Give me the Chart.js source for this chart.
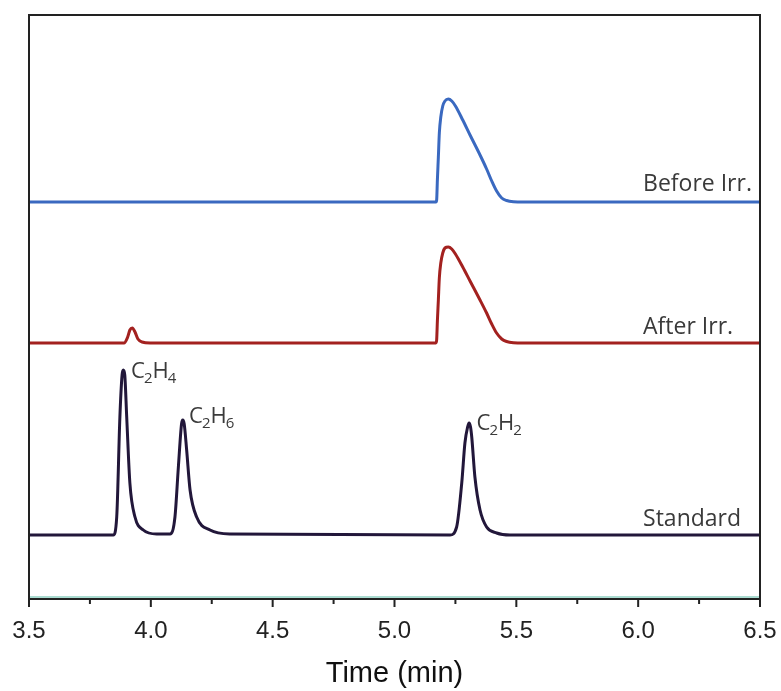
<!DOCTYPE html>
<html lang="en">
<head>
  <meta charset="UTF-8">
  <title>GC traces</title>
  <script src="https://cdn.jsdelivr.net/npm/chart.js@4.4.1/dist/chart.umd.min.js"></script>
  <style>
    body { margin: 0; background: #fff; }
  </style>
</head>
<body>
  <canvas id="gc" width="781" height="691"></canvas>

  <script>
    // DATA (time in min, detector signal in a.u., traces stacked with offsets)
    const beforeTime   = [3.5, 5.17, 5.173, 5.176, 5.18, 5.184, 5.19, 5.198, 5.207, 5.221, 5.235, 5.25, 5.28, 5.31, 5.351, 5.378, 5.399, 5.419, 5.44, 5.46, 5.488, 5.53, 6.5];
    const beforeSignal = [397, 397, 399, 419, 442, 466, 482, 493, 498, 500, 498, 493, 479, 464, 444, 430, 418, 408, 401, 398.5, 397.3, 397, 397];

    const afterTime   = [3.5, 3.89, 3.905, 3.914, 3.924, 3.935, 3.947, 3.964, 3.997, 5.17, 5.173, 5.176, 5.18, 5.184, 5.19, 5.198, 5.207, 5.221, 5.235, 5.25, 5.28, 5.31, 5.351, 5.378, 5.399, 5.419, 5.44, 5.46, 5.488, 5.53, 6.5];
    const afterSignal = [256, 256, 262, 269, 271, 267, 260, 257, 256, 256, 259, 278, 299, 321, 336, 346, 351, 352, 350, 345, 332, 318, 299, 286, 275, 266, 260, 257.5, 256.3, 256, 256];

    const standardTime   = [3.5, 3.846, 3.86, 3.873, 3.882, 3.887, 3.893, 3.901, 3.914, 3.935, 3.969, 4.024, 4.079, 4.099, 4.113, 4.126, 4.131, 4.137, 4.147, 4.161, 4.188, 4.243, 4.325, 5.228, 5.255, 5.276, 5.289, 5.3, 5.306, 5.312, 5.317, 5.33, 5.351, 5.378, 5.419, 5.474, 6.5];
    const standardSignal = [64, 64, 82, 182, 224, 229, 224, 182, 116, 82, 69, 65, 65, 82, 132, 175, 179, 175, 149, 109, 82, 69, 65, 64, 72, 116, 156, 172, 176, 172, 162, 122, 89, 72, 66, 64, 64];

    const seriesNames = ["Before Irr.", "After Irr.", "Standard"];
    const peakNames = ["C2H4", "C2H6", "C2H2"];
    const xTicks = [3.5, 4.0, 4.5, 5.0, 5.5, 6.0, 6.5];

    const toPoints = (t, s) => t.map((v, i) => ({ x: v, y: s[i] }));

    // frame + major/minor ticks
    const framePlugin = {
      id: "frame",
      afterDraw(chart) {
        const { ctx, chartArea: a, scales: { x } } = chart;
        ctx.save();
        ctx.strokeStyle = "#8fd0c2";
        ctx.lineWidth = 1.5;
        ctx.beginPath();
        ctx.moveTo(a.left, a.bottom - 2);
        ctx.lineTo(a.right, a.bottom - 2);
        ctx.stroke();

        ctx.strokeStyle = "#222";
        ctx.lineWidth = 2;
        ctx.strokeRect(a.left, a.top, a.right - a.left, a.bottom - a.top);

        ctx.beginPath();
        x.ticks.forEach((tk, i) => {
          const px = x.getPixelForValue(tk.value);
          ctx.moveTo(px, a.bottom);
          ctx.lineTo(px, a.bottom + 8);
          if (i < x.ticks.length - 1) {
            const mx = x.getPixelForValue((tk.value + x.ticks[i + 1].value) / 2);
            ctx.moveTo(mx, a.bottom);
            ctx.lineTo(mx, a.bottom + 5);
          }
        });
        ctx.stroke();
        ctx.restore();
      }
    };

    // text labels next to traces
    const labelPlugin = {
      id: "traceLabels",
      afterDraw(chart) {
        const { ctx, scales: { x, y } } = chart;
        ctx.save();
        ctx.fillStyle = "#3a3a3a";
        ctx.textBaseline = "alphabetic";
        ctx.textAlign = "left";

        ctx.font = "23px 'Open Sans'";
        const seriesPos = [[6.02, 408], [6.02, 265], [6.02, 73]];
        seriesNames.forEach((name, i) => {
          ctx.fillText(name, x.getPixelForValue(seriesPos[i][0]), y.getPixelForValue(seriesPos[i][1]));
        });

        // formulas with subscripts
        const peakPos = [[3.919, 221], [4.157, 176], [5.337, 169]];
        peakNames.forEach((name, i) => {
          let px = x.getPixelForValue(peakPos[i][0]);
          const py = y.getPixelForValue(peakPos[i][1]);
          for (const ch of name) {
            const sub = /\d/.test(ch);
            ctx.font = sub ? "15px 'Open Sans'" : "22px 'Open Sans'";
            ctx.fillText(ch, px, sub ? py + 5 : py);
            px += ctx.measureText(ch).width + (sub ? 0 : -1);
          }
        });
        ctx.restore();
      }
    };

    const gcChart = new Chart("gc", {
      type: "line",
      data: {
        datasets: [
          { label: seriesNames[0], data: toPoints(beforeTime, beforeSignal), borderColor: "#3a69c0" },
          { label: seriesNames[1], data: toPoints(afterTime, afterSignal), borderColor: "#a3211f" },
          { label: seriesNames[2], data: toPoints(standardTime, standardSignal), borderColor: "#22173a" }
        ]
      },
      options: {
        responsive: false,
        animation: false,
        elements: {
          line: { borderWidth: 3, cubicInterpolationMode: "monotone" },
          point: { radius: 0 }
        },
        layout: { padding: { left: 29, right: 21, top: 15, bottom: 0 } },
        plugins: { legend: { display: false }, tooltip: { enabled: false } },
        scales: {
          x: {
            type: "linear",
            min: 3.5,
            max: 6.5,
            afterBuildTicks: (s) => { s.ticks = xTicks.map(v => ({ value: v })); },
            afterFit: (s) => { s.height = 92; s.paddingLeft = 0; s.paddingRight = 0; },
            grid: { display: false },
            border: { display: false },
            ticks: {
              autoSkip: false,
              maxRotation: 0,
              padding: 10,
              color: "#222",
              font: { family: "'Liberation Sans', Arial", size: 24 },
              callback: (v) => Number(v).toFixed(1)
            },
            title: {
              display: true,
              text: "Time (min)",
              color: "#111",
              font: { family: "'Liberation Sans', Arial", size: 29 },
              padding: { top: 0, bottom: 0 }
            }
          },
          y: { display: false, min: 0, max: 584 }
        }
      },
      plugins: [framePlugin, labelPlugin]
    });
  </script>
</body>
</html>
